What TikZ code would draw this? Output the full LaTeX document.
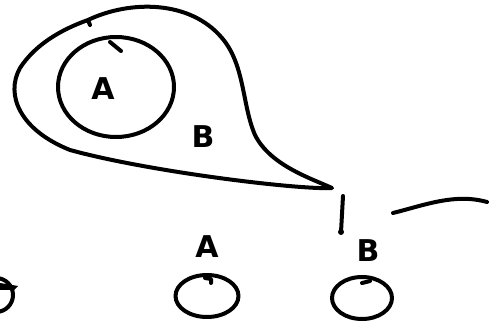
\documentclass[tikz,border=0pt]{standalone}
\usepackage{fontspec}
\setsansfont{DejaVu Sans}
\usetikzlibrary{shapes.geometric}
\begin{document}
\begin{tikzpicture}[x=1pt,y=-1pt,
  ink/.style={line width=4pt,line cap=round,line join=round},
  lbl/.style={font=\sffamily\bfseries\fontsize{30}{30}\selectfont,inner sep=0pt},
  oval/.style={ink,draw,ellipse,inner sep=0pt}]
\useasboundingbox (0,0) rectangle (500,328);
% big teardrop B
\draw[ink] (88,20) .. controls (130,0) and (190,0) .. (222,38)
  .. controls (245,65) and (242,105) .. (255,135)
  .. controls (270,165) and (310,178) .. (332,188)
  .. controls (300,190) and (150,172) .. (70,150)
  .. controls (20,130) and (5,95) .. (20,68)
  .. controls (35,45) and (60,30) .. (88,20) -- (90,25);
% inner circle A
\node[oval,minimum width=116pt,minimum height=100pt] (cA) at (116,87) {};
\draw[ink] (110,42) -- (121,51);
\node[lbl] (tA) at (103,89) {A};
\node[lbl] (tB) at (203,137) {B};
% vertical stroke
\coordinate (v1) at (343,196);
\coordinate (v2) at (341,232);
\draw[ink] (v1) -- (v2);
\fill (v2) circle (3pt);
% right stroke
\coordinate (r1) at (393,213);
\coordinate (r2) at (487,202);
\draw[ink] (r1) .. controls (425,205) and (455,193) .. (r2);
% bottom labels and ovals
\node[lbl] (bA) at (207,247) {A};
\node[oval,minimum width=63pt,minimum height=42pt] (oA) at (207,296) {};
\draw[ink] (205,278) -- (211,279) -- (211,283);
\node[lbl] (bB) at (368,251) {B};
\node[oval,minimum width=60pt,minimum height=42pt] (oB) at (362,298) {};
\draw[ink] (362,283) -- (370,281);
% left partial circle
\begin{scope}
\clip (0,270) rectangle (20,320);
\node[oval,minimum width=34pt,minimum height=34pt] (oL) at (-4,295) {};
\fill (0,283) -- (18,286) -- (14,290) -- (0,290) -- cycle;
\end{scope}
\end{tikzpicture}
\end{document}
